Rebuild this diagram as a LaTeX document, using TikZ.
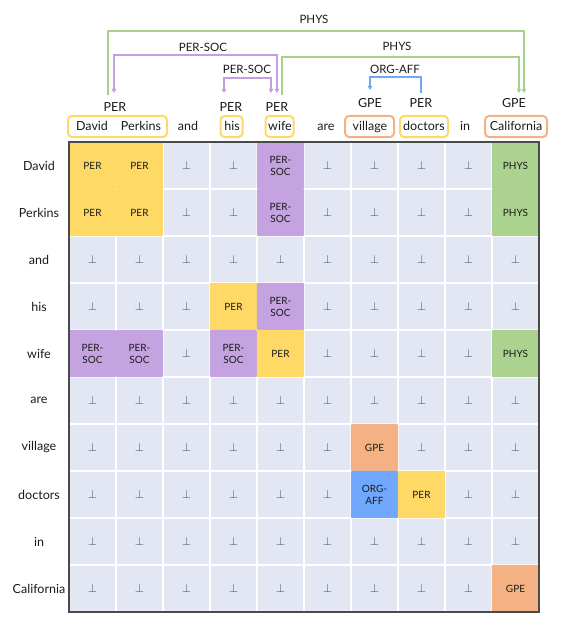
\documentclass[tikz,border=0pt]{standalone}
\usepackage{fontspec}
\setmainfont{Lato}
\usetikzlibrary{arrows.meta}
\definecolor{cellbg}{HTML}{E3E7F4}
\definecolor{cyel}{HTML}{FFD966}
\definecolor{cpur}{HTML}{C5A3E0}
\definecolor{cgrn}{HTML}{ABD28F}
\definecolor{corg}{HTML}{F4B183}
\definecolor{cblu}{HTML}{6FA8FC}
\definecolor{lgrn}{HTML}{A9D18E}
\definecolor{lpur}{HTML}{C29FE3}
\definecolor{lblu}{HTML}{6FA8F5}
\definecolor{frame}{HTML}{4A4A4A}
\definecolor{perpc}{HTML}{4A4A4A}
\definecolor{txt}{HTML}{1A1A1A}
\def\labY{PER}
\def\labP{PER-\\SOC}
\def\labG{PHYS}
\def\labO{GPE}
\def\labB{ORG-\\AFF}
\def\labZ{{\fontsize{11.5}{12}\selectfont\textcolor{perpc}{$\perp$}}}
\begin{document}
\begin{tikzpicture}[x=1pt,y=-1pt,
  cellbase/.style={inner sep=0pt, align=center, text=txt,
    font=\fontsize{10}{12}\selectfont},
  cellZ/.style={cellbase, fill=cellbg, minimum size=45.8pt},
  cellY/.style={cellbase, fill=cyel, minimum size=47.2pt, rounded corners=1pt},
  cellP/.style={cellbase, fill=cpur, minimum size=47.2pt, rounded corners=1pt},
  cellG/.style={cellbase, fill=cgrn, minimum size=47.2pt, rounded corners=1pt},
  cellO/.style={cellbase, fill=corg, minimum size=47.2pt, rounded corners=1pt},
  cellB/.style={cellbase, fill=cblu, minimum size=47.2pt, rounded corners=1pt},
  rowlab/.style={font=\fontsize{12.5}{14}\selectfont, inner sep=0pt, text=txt},
  word/.style={font=\fontsize{12.5}{14}\selectfont, inner sep=0pt, anchor=base, text=txt},
  tag/.style={font=\fontsize{12.5}{14}\selectfont, inner sep=0pt, text=txt},
  rlab/.style={font=\fontsize{11.5}{13}\selectfont, inner sep=0pt, text=txt},
  ebox/.style={draw=#1, line width=2pt, rounded corners=4pt, inner sep=0pt},
  rel/.style={line width=1.4pt},
  tipa/.style={-{Triangle[length=4pt,width=4.5pt]}},
  tipb/.style={{Triangle[length=4pt,width=4.5pt]}-{Triangle[length=4pt,width=4.5pt]}}
]
\useasboundingbox (0,0) rectangle (564,623);

% entity boxes
\node[ebox=cyel, minimum width=99pt, minimum height=21pt] (b0) at (117.5,126.5) {};
\node[ebox=cyel, minimum width=22pt, minimum height=21pt] (b1) at (231.5,126.5) {};
\node[ebox=cyel, minimum width=28pt, minimum height=21pt] (b2) at (279.5,126.5) {};
\node[ebox=corg, minimum width=49pt, minimum height=21pt] (b3) at (369.5,126.5) {};
\node[ebox=cyel, minimum width=48pt, minimum height=21pt] (b4) at (424,126.5) {};
\node[ebox=corg, minimum width=62pt, minimum height=21pt] (b5) at (516,126.5) {};

% words
\foreach \w/\x [count=\k from 0] in {David/92,Perkins/141,and/188,his/232,wife/280,are/326,village/370,doctors/424,in/465,California/516}
  \node[word] (w\k) at (\x,131) {\w};

% entity tags
\node[tag] (t0) at (115,107) {PER};
\node[tag] (t1) at (231,107) {PER};
\node[tag] (t2) at (277,107) {PER};
\node[tag] (t3) at (370,103) {GPE};
\node[tag] (t4) at (421,103) {PER};
\node[tag] (t5) at (514,103) {GPE};

% relation end points
\coordinate (p1s) at (108,95);  \coordinate (p1e) at (524,93);
\coordinate (s1s) at (114,93);  \coordinate (s1e) at (277,93);
\coordinate (p2s) at (282,95);  \coordinate (p2e) at (519,93);
\coordinate (s2s) at (224,93);  \coordinate (s2e) at (271,93);
\coordinate (o1s) at (421,93);  \coordinate (o1e) at (370,90);

\draw[rel, lgrn, tipa] (p1s) -- ++(0,-64) -| (p1e);
\draw[rel, lpur, tipb] (s1s) -- ++(0,-38) -| (s1e);
\draw[rel, lgrn, tipa] (p2s) -- ++(0,-38) -| (p2e);
\draw[rel, lpur, tipb] (s2s) -- ++(0,-15) -| (s2e);
\draw[rel, lblu, tipa] (o1s) -- ++(0,-16) -| (o1e);

\node[rlab] (l1) at (314,19) {PHYS};
\node[rlab] (l2) at (203,47) {PER-SOC};
\node[rlab] (l3) at (397,46) {PHYS};
\node[rlab] (l4) at (247,69) {PER-SOC};
\node[rlab] (l5) at (395,69) {ORG-AFF};

% row labels
\foreach \w [count=\r from 0] in {David,Perkins,and,his,wife,are,village,doctors,in,California}
  \node[rowlab] (r\r) at (39,165.5+47*\r) {\w};

% matrix cells
\foreach \row [count=\r from 0] in {
  {Y,Y,Z,Z,P,Z,Z,Z,Z,G},
  {Y,Y,Z,Z,P,Z,Z,Z,Z,G},
  {Z,Z,Z,Z,Z,Z,Z,Z,Z,Z},
  {Z,Z,Z,Y,P,Z,Z,Z,Z,Z},
  {P,P,Z,P,Y,Z,Z,Z,Z,G},
  {Z,Z,Z,Z,Z,Z,Z,Z,Z,Z},
  {Z,Z,Z,Z,Z,Z,O,Z,Z,Z},
  {Z,Z,Z,Z,Z,Z,B,Y,Z,Z},
  {Z,Z,Z,Z,Z,Z,Z,Z,Z,Z},
  {Z,Z,Z,Z,Z,Z,Z,Z,Z,O}}
{
  \foreach \c [count=\k from 0] in \row {
    \node[cell\c] (m-\r-\k) at (92.5+47*\k,165.5+47*\r) {\csname lab\c\endcsname};
  }
}

\draw[frame, line width=1.6pt] (69,142) rectangle (539,612);
\end{tikzpicture}
\end{document}
